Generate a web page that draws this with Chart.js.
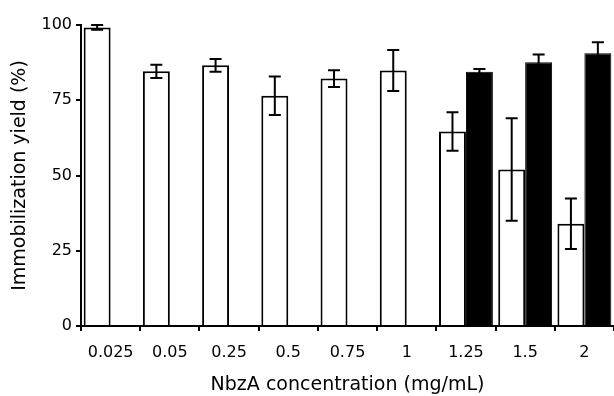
<!DOCTYPE html>
<html>
<head>
<meta charset="utf-8">
<script src="https://cdn.jsdelivr.net/npm/chart.js@4"></script>
<style>
  body { margin: 0; background: #fff; }
  #wrap { width: 614px; height: 396px; }
</style>
</head>
<body>
<div id="wrap"><canvas id="myChart" width="614" height="396"></canvas></div>
<script>
// data
const concentrations = ['0.025', '0.05', '0.25', '0.5', '0.75', '1', '1.25', '1.5', '2'];
const whiteYield = [99.2, 84.6, 86.6, 76.5, 82.2, 84.9, 64.6, 52.0, 34.0];
const whiteErr = [0.8, 2.2, 2.1, 6.4, 2.8, 6.8, 6.4, 17.0, 8.4];
const blackYield = [null, null, null, null, null, null, 84.5, 87.6, 90.6];
const blackErr = [null, null, null, null, null, null, 0.9, 2.6, 3.7];
const yTicks = [0, 25, 50, 75, 100];

// Chart.js has no error bars, so draw them after the bars
const errorBars = {
  id: 'errorBars',
  afterDatasetsDraw(chart) {
    const c = chart.ctx;
    const yScale = chart.scales.y;
    const errs = [whiteErr, blackErr];
    c.save();
    c.strokeStyle = '#000';
    c.lineWidth = 2;
    chart.data.datasets.forEach(function (ds, d) {
      const meta = chart.getDatasetMeta(d);
      ds.data.forEach(function (v, i) {
        if (v == null || errs[d][i] == null) return;
        const x = meta.data[i].x;
        const top = yScale.getPixelForValue(v + errs[d][i]);
        const bot = yScale.getPixelForValue(v - errs[d][i]);
        c.beginPath();
        c.moveTo(x, top); c.lineTo(x, bot);
        c.moveTo(x - 6, top); c.lineTo(x + 6, top);
        c.moveTo(x - 6, bot); c.lineTo(x + 6, bot);
        c.stroke();
      });
    });
    c.restore();
  }
};

document.addEventListener('DOMContentLoaded', function () {
  const ctx = document.getElementById('myChart');
  new Chart(ctx, {
    type: 'bar',
    data: {
      labels: concentrations,
      datasets: [{
        label: 'white',
        data: whiteYield,
        backgroundColor: '#fff',
        borderColor: '#000',
        borderWidth: 2,
        categoryPercentage: 0.91,
        barPercentage: 1.0
      }, {
        label: 'black',
        data: blackYield,
        backgroundColor: '#000',
        borderColor: '#000',
        borderWidth: 1,
        categoryPercentage: 0.91,
        barPercentage: 1.0
      }]
    },
    options: {
      responsive: false,
      animation: false,
      layout: { padding: { top: 25, right: 0, left: 0, bottom: 0 } },
      plugins: { legend: { display: false }, tooltip: { enabled: false } },
      scales: {
        x: {
          afterFit: function (s) { s.height = 70; },
          grid: { offset: true, drawOnChartArea: false, tickLength: 5, color: '#000', lineWidth: 2 },
          border: { display: true, color: '#000', width: 2 },
          ticks: { color: '#000', padding: 12, font: { family: 'DejaVu Sans', size: 16 }, maxRotation: 0 },
          title: { display: true, text: 'NbzA concentration (mg/mL)', color: '#000', padding: 0, font: { family: 'DejaVu Sans', size: 19 } }
        },
        y: {
          min: 0,
          max: 100,
          afterFit: function (s) { s.width = 81; },
          afterBuildTicks: function (s) { s.ticks = yTicks.map(v => ({ value: v })); },
          grid: { drawOnChartArea: false, tickLength: 5, color: '#000', lineWidth: 2 },
          border: { display: true, color: '#000', width: 2 },
          ticks: { color: '#000', padding: 4, font: { family: 'DejaVu Sans', size: 16 } },
          title: { display: true, text: 'Immobilization yield (%)', color: '#000', padding: { top: 9, bottom: 0 }, font: { family: 'DejaVu Sans', size: 19 } }
        }
      }
    },
    plugins: [errorBars]
  });
});
</script>
</body>
</html>
